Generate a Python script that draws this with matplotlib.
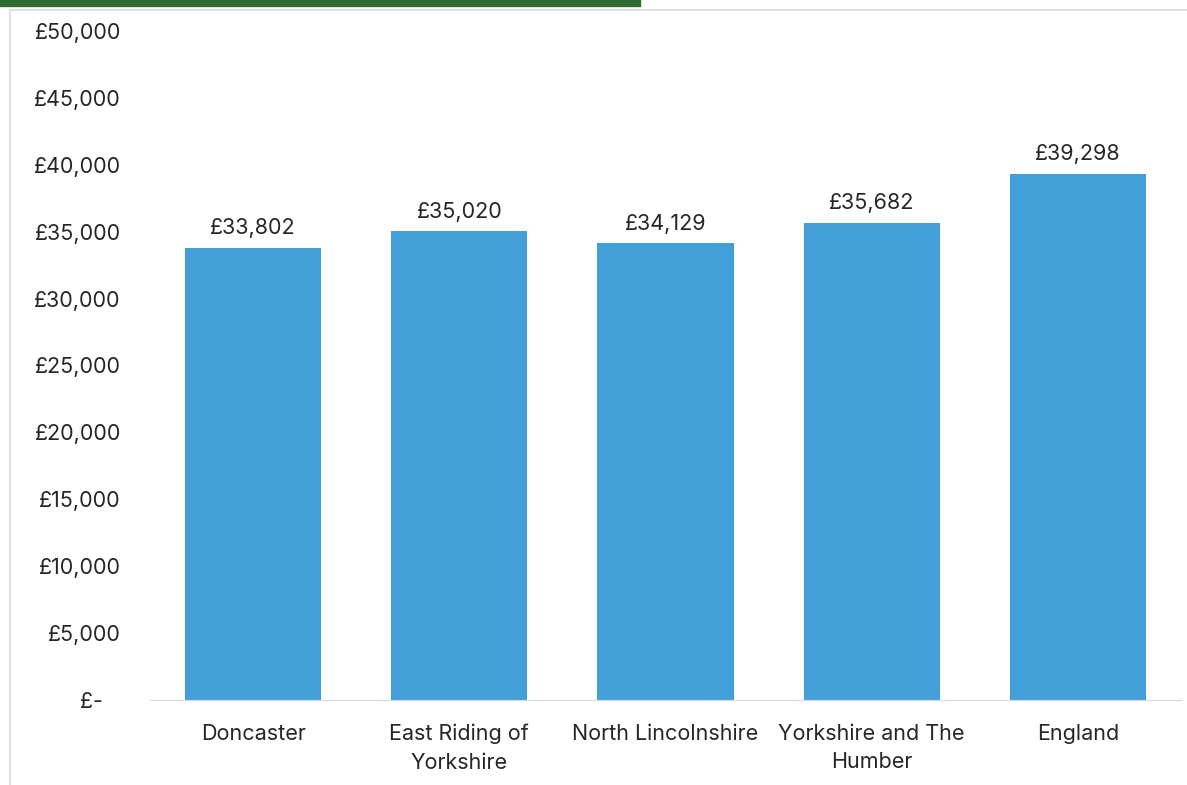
import matplotlib.pyplot as plt
from matplotlib.patches import Rectangle

areas = ['Doncaster', 'East Riding of\nYorkshire', 'North Lincolnshire',
         'Yorkshire and The\nHumber', 'England']
salary = [33802, 35020, 34129, 35682, 39298]
yticks = [0, 5000, 10000, 15000, 20000, 25000, 30000, 35000, 40000, 45000, 50000]

plt.rcParams['font.family'] = ['Inter', 'DejaVu Sans']

fig = plt.figure(figsize=(11.87, 7.85), dpi=100)
ax = fig.add_axes([150 / 1187, 85 / 785, 1031 / 1187, 669 / 785])

# green strip at the very top and the grey chart frame
fig.patches.append(Rectangle((0, 779 / 785), 640 / 1187, 6 / 785, transform=fig.transFigure,
                             color='#2E6B33', zorder=0))
fig.patches.append(Rectangle((10 / 1187, -0.05), 1.2, (775 / 785) + 0.05, transform=fig.transFigure,
                             fill=False, edgecolor='#D9D9D9', linewidth=1.2, zorder=0))

bars = ax.bar(range(len(areas)), salary, width=0.66, color='#439FD8')
for b, v in zip(bars, salary):
    ax.annotate(f'£{v:,}', (b.get_x() + b.get_width() / 2, v), xytext=(0, 7),
                textcoords='offset points', ha='center', va='bottom', fontsize=15.5, color='#262626')

ax.set_xlim(-0.5, len(areas) - 0.5)
ax.set_ylim(0, 50000)
ax.set_yticks(yticks)
ax.set_yticklabels(['£-   '] + [f'£{t:,}' for t in yticks[1:]], fontsize=15.5, color='#262626')
ax.set_xticks(range(len(areas)))
ax.set_xticklabels(areas, fontsize=15.5, color='#262626', linespacing=1.55)

for s in ['top', 'right', 'left']:
    ax.spines[s].set_visible(False)
ax.spines['bottom'].set_color('#D9D9D9')
ax.tick_params(axis='both', length=0)
ax.tick_params(axis='y', pad=21)
ax.tick_params(axis='x', pad=17)

fig.savefig('out.png', dpi=100)
